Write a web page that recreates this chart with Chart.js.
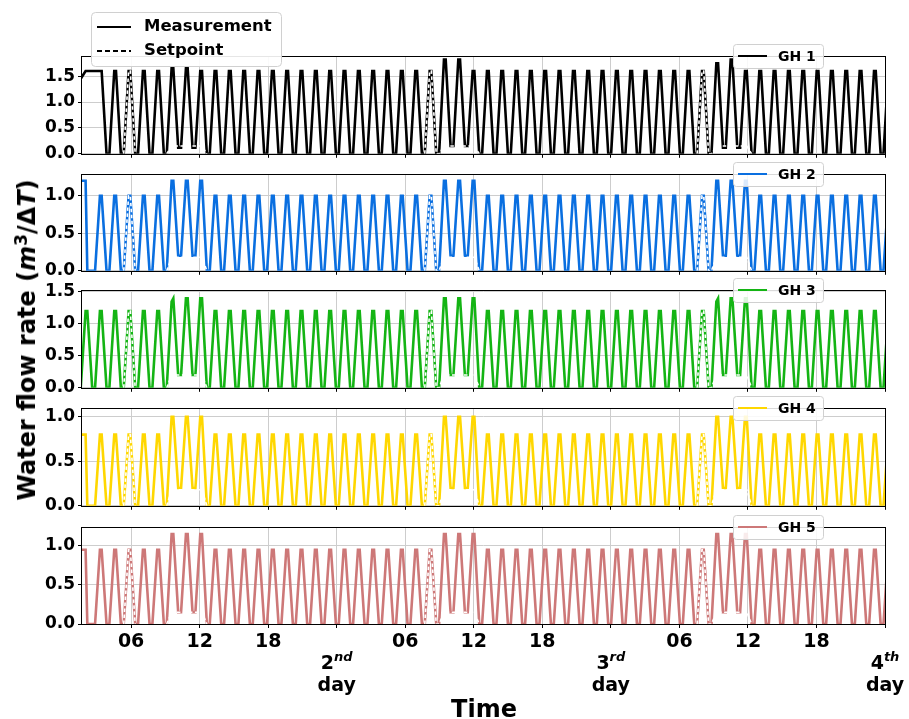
<!DOCTYPE html>
<html>
<head>
<meta charset="utf-8">
<title>Water flow rate per greenhouse</title>
<script src="https://cdn.jsdelivr.net/npm/chart.js@4.4.1/dist/chart.umd.min.js"></script>
<style>
  body { margin: 0; background: #fff; }
  #wrap { position: relative; width: 909px; height: 719px; overflow: hidden; font-family: "DejaVu Sans", sans-serif; }
  #wrap canvas { position: absolute; left: 0; }
  #ylabel { position: absolute; left: 28px; top: 340px; transform: translate(-50%, -50%) rotate(-90deg);
            white-space: nowrap; font-weight: bold; font-size: 24px; line-height: 28px; }
  #ylabel sup { font-size: 17px; vertical-align: 0; position: relative; top: -0.5em; }
  #xlabel { position: absolute; left: 484px; top: 697px; transform: translateX(-50%);
            font-weight: bold; font-size: 24px; line-height: 24px; }
</style>
</head>
<body>
<div id="wrap">
  <canvas id="gh1" width="909" height="167" style="top:0px"></canvas>
  <canvas id="gh2" width="909" height="126" style="top:158px"></canvas>
  <canvas id="gh3" width="909" height="127" style="top:274px"></canvas>
  <canvas id="gh4" width="909" height="127" style="top:392px"></canvas>
  <canvas id="gh5" width="909" height="208" style="top:511px"></canvas>
  <div id="ylabel">Water flow rate (<i>m</i><sup>3</sup>/Δ<i>T</i>)</div>
  <div id="xlabel">Time</div>
</div>
<script>
// pump cycles: first cycle centred at firstCycle (hours after 00:00 of day 1)
const firstCycle = 0.835
const cycleHours = 1.255
// sample times inside a cycle, as a fraction of the cycle, around its centre:
// start of rise, start of top, end of top, end of fall
const cycleShape = [-0.4, -0.06, 0.06, 0.4]
const hourTicks = [6, 12, 18, 24, 30, 36, 42, 48, 54, 60, 66, 72]
const _ = null

// one entry per pump cycle: a number is the peak of a [0, p, p, 0] cycle,
// an array gives the four samples of the cycle
const gh1Flow = [
  [1.6, 1.6, 1.4, 1.4], [1.45, 1.6, 1.6, 1.6], [1.6, 1.6, 1.6, 0],
  1.6, 1.6, 1.6, 1.6,
  [0, 1.65, 1.65, 0.12], [0.12, 1.65, 1.65, 0.12], [0.12, 1.6, 1.6, 0],
  1.6, 1.6, 1.6, 1.6, 1.6, 1.6, 1.6, 1.6, 1.6, 1.6, 1.6, 1.6, 1.6, 1.6, 1.6, 1.6,
  [0, 1.82, 1.82, 0.15], [0.15, 1.82, 1.82, 0.15], [0.15, 1.6, 1.6, 0],
  1.6, 1.6, 1.6, 1.6, 1.6, 1.6, 1.6, 1.6, 1.6, 1.6, 1.6, 1.6, 1.6, 1.6, 1.6, 1.6,
  [0, 1.75, 1.75, 0.12], [0.12, 1.82, 1.82, 0.12], [0.12, 1.6, 1.6, 0],
  1.6, 1.6, 1.6, 1.6, 1.6, 1.6, 1.6, 1.6, 1.6, 1.6
]
const gh1Setpoint = [
  _, _, _, _,
  1.6, _, _,
  [0, 0.15, 0.15, 0.15], [0.15, 0.15, 0.15, 0.15], [0.15, 0.15, 0.15, 0],
  _, _, _, _, _, _, _, _, _, _, _, _, _, _,
  _, 1.6,
  [0, 0.15, 0.15, 0.15], [0.15, 0.15, 0.15, 0.15], [0.15, 0.15, 0.15, 0],
  _, _, _, _, _, _, _, _, _, _, _, _, _, _,
  _, 1.6,
  [0, 0.15, 0.15, 0.15], [0.15, 0.15, 0.15, 0.15], [0.15, 0.15, 0.15, 0],
  _, _, _, _, _, _, _, _, _, _
]

const gh2Flow = [
  [1.2, 1.2, 1.2, 1.2], [1.2, 1.2, 0, 0], 1.0,
  1.0, 1.0, 1.0, 1.0,
  [0, 1.2, 1.2, 0.2], [0.2, 1.2, 1.2, 0.2], [0.2, 1.2, 1.2, 0],
  1.0, 1.0, 1.0, 1.0, 1.0, 1.0, 1.0, 1.0, 1.0, 1.0, 1.0, 1.0, 1.0, 1.0, 1.0, 1.0,
  [0, 1.2, 1.2, 0.2], [0.2, 1.2, 1.2, 0.2], [0.2, 1.2, 1.2, 0],
  1.0, 1.0, 1.0, 1.0, 1.0, 1.0, 1.0, 1.0, 1.0, 1.0, 1.0, 1.0, 1.0, 1.0, 1.0, 1.0,
  [0, 1.2, 1.2, 0.2], [0.2, 1.2, 1.2, 0.2], [0.2, 1.2, 1.2, 0],
  1.0, 1.0, 1.0, 1.0, 1.0, 1.0, 1.0, 1.0, 1.0, 1.0
]
const gh2Setpoint = [
  _, _, _, _,
  1.0, _, _,
  [0, 0.18, 0.18, 0.18], [0.18, 0.18, 0.18, 0.18], [0.18, 0.18, 0.18, 0],
  _, _, _, _, _, _, _, _, _, _, _, _, _, _,
  _, 1.0,
  [0, 0.18, 0.18, 0.18], [0.18, 0.18, 0.18, 0.18], [0.18, 0.18, 0.18, 0],
  _, _, _, _, _, _, _, _, _, _, _, _, _, _,
  _, 1.0,
  [0, 0.18, 0.18, 0.18], [0.18, 0.18, 0.18, 0.18], [0.18, 0.18, 0.18, 0],
  _, _, _, _, _, _, _, _, _, _
]

const gh3Flow = [
  [0, 0, 0, 0], 1.2, 1.2,
  1.2, 1.2, 1.2, 1.2,
  [0, 1.35, 1.4, 0.2], [0.2, 1.4, 1.4, 0.2], [0.2, 1.4, 1.4, 0],
  1.2, 1.2, 1.2, 1.2, 1.2, 1.2, 1.2, 1.2, 1.2, 1.2, 1.2, 1.2, 1.2, 1.2, 1.2, 1.2,
  [0, 1.4, 1.4, 0.2], [0.2, 1.4, 1.4, 0.2], [0.2, 1.4, 1.4, 0],
  1.2, 1.2, 1.2, 1.2, 1.2, 1.2, 1.2, 1.2, 1.2, 1.2, 1.2, 1.2, 1.2, 1.2, 1.2, 1.2,
  [0, 1.35, 1.4, 0.2], [0.2, 1.4, 1.4, 0.2], [0.2, 1.4, 1.4, 0],
  1.2, 1.2, 1.2, 1.2, 1.2, 1.2, 1.2, 1.2, 1.2, 1.2
]
const gh3Setpoint = [
  _, _, _, _,
  1.2, _, _,
  [0, 0.2, 0.2, 0.2], [0.2, 0.2, 0.2, 0.2], [0.2, 0.2, 0.2, 0],
  _, _, _, _, _, _, _, _, _, _, _, _, _, _,
  _, 1.2,
  [0, 0.2, 0.2, 0.2], [0.2, 0.2, 0.2, 0.2], [0.2, 0.2, 0.2, 0],
  _, _, _, _, _, _, _, _, _, _, _, _, _, _,
  _, 1.2,
  [0, 0.2, 0.2, 0.2], [0.2, 0.2, 0.2, 0.2], [0.2, 0.2, 0.2, 0],
  _, _, _, _, _, _, _, _, _, _
]

const gh4Flow = [
  [0.8, 0.8, 0.8, 0.8], [0.8, 0.8, 0, 0], 0.8,
  0.8, 0.8, 0.8, 0.8,
  [0, 1.0, 1.0, 0.2], [0.2, 1.0, 1.0, 0.2], [0.2, 1.0, 1.0, 0],
  0.8, 0.8, 0.8, 0.8, 0.8, 0.8, 0.8, 0.8, 0.8, 0.8, 0.8, 0.8, 0.8, 0.8, 0.8, 0.8,
  [0, 1.0, 1.0, 0.2], [0.2, 1.0, 1.0, 0.2], [0.2, 1.0, 1.0, 0],
  0.8, 0.8, 0.8, 0.8, 0.8, 0.8, 0.8, 0.8, 0.8, 0.8, 0.8, 0.8, 0.8, 0.8, 0.8, 0.8,
  [0, 1.0, 1.0, 0.2], [0.2, 1.0, 1.0, 0.2], [0.2, 1.0, 1.0, 0],
  0.8, 0.8, 0.8, 0.8, 0.8, 0.8, 0.8, 0.8, 0.8, 0.8
]
const gh4Setpoint = [
  _, _, _, _,
  0.8, _, _,
  [0, 0.18, 0.18, 0.18], [0.18, 0.18, 0.18, 0.18], [0.18, 0.18, 0.18, 0],
  _, _, _, _, _, _, _, _, _, _, _, _, _, _,
  _, 0.8,
  [0, 0.18, 0.18, 0.18], [0.18, 0.18, 0.18, 0.18], [0.18, 0.18, 0.18, 0],
  _, _, _, _, _, _, _, _, _, _, _, _, _, _,
  _, 0.8,
  [0, 0.18, 0.18, 0.18], [0.18, 0.18, 0.18, 0.18], [0.18, 0.18, 0.18, 0],
  _, _, _, _, _, _, _, _, _, _
]

const gh5Flow = [
  [0.95, 0.95, 0.95, 0.95], [0.95, 0.95, 0, 0], 0.95,
  0.95, 0.95, 0.95, 0.95,
  [0, 1.15, 1.15, 0.15], [0.15, 1.15, 1.15, 0.15], [0.15, 1.15, 1.15, 0],
  0.95, 0.95, 0.95, 0.95, 0.95, 0.95, 0.95, 0.95, 0.95, 0.95, 0.95, 0.95, 0.95, 0.95, 0.95, 0.95,
  [0, 1.15, 1.15, 0.15], [0.15, 1.15, 1.15, 0.15], [0.15, 1.15, 1.15, 0],
  0.95, 0.95, 0.95, 0.95, 0.95, 0.95, 0.95, 0.95, 0.95, 0.95, 0.95, 0.95, 0.95, 0.95, 0.95, 0.95,
  [0, 1.15, 1.15, 0.15], [0.15, 1.15, 1.15, 0.15], [0.15, 1.15, 1.15, 0],
  0.95, 0.95, 0.95, 0.95, 0.95, 0.95, 0.95, 0.95, 0.95, 0.95
]
const gh5Setpoint = [
  _, _, _, _,
  0.95, _, _,
  [0, 0.15, 0.15, 0.15], [0.15, 0.15, 0.15, 0.15], [0.15, 0.15, 0.15, 0],
  _, _, _, _, _, _, _, _, _, _, _, _, _, _,
  _, 0.95,
  [0, 0.15, 0.15, 0.15], [0.15, 0.15, 0.15, 0.15], [0.15, 0.15, 0.15, 0],
  _, _, _, _, _, _, _, _, _, _, _, _, _, _,
  _, 0.95,
  [0, 0.15, 0.15, 0.15], [0.15, 0.15, 0.15, 0.15], [0.15, 0.15, 0.15, 0],
  _, _, _, _, _, _, _, _, _, _
]

const yMaxes = [1.89, 1.29, 1.53, 1.10, 1.24]
const yTicks = [[0, 0.5, 1.0, 1.5], [0, 0.5, 1.0], [0, 0.5, 1.0, 1.5], [0, 0.5, 1.0], [0, 0.5, 1.0]]

const BOLD = '"DejaVu Sans", sans-serif'

function toPoints(cycles) { //turn the cycle list into {x, y} samples
  const pts = []
  cycles.forEach((c, k) => {
    const vals = c === null ? [null, null, null, null] : (Array.isArray(c) ? c : [0, c, c, 0])
    const centre = firstCycle + k * cycleHours
    vals.forEach((v, j) => pts.push({ x: centre + cycleShape[j] * cycleHours, y: v }))
  })
  return pts
}

const gridStyle = { color: '#cdcdcd', lineWidth: 1, tickColor: '#000', tickLength: 4, drawTicks: true }

// frame, small per-panel key, top key and the bottom time labels
const decor = {
  id: 'decor',
  afterDatasetsDraw(chart, args, opts) {
    const ctx = chart.ctx
    const a = chart.chartArea
    ctx.save()
    ctx.strokeStyle = '#000'
    ctx.lineWidth = 1
    ctx.strokeRect(Math.round(a.left) - 0.5, Math.round(a.top) + 0.5, Math.round(a.right - a.left) + 1, Math.round(a.bottom - a.top))

    // panel key box
    const bx = 733, bw = 90, bh = 24, by = a.top - bh / 2
    ctx.fillStyle = 'rgba(255,255,255,0.85)'
    ctx.strokeStyle = '#d0d0d0'
    ctx.beginPath()
    ctx.roundRect(bx + 0.5, Math.round(by) + 0.5, bw, bh, 3)
    ctx.fill()
    ctx.stroke()
    ctx.strokeStyle = opts.color
    ctx.lineWidth = 2
    ctx.beginPath()
    ctx.moveTo(bx + 5, by + bh / 2)
    ctx.lineTo(bx + 34, by + bh / 2)
    ctx.stroke()
    ctx.fillStyle = '#000'
    ctx.font = 'bold 14px ' + BOLD
    ctx.textBaseline = 'middle'
    ctx.textAlign = 'left'
    ctx.fillText(opts.label, bx + 45, by + bh / 2 + 1)

    if (opts.topKey) {
      ctx.fillStyle = 'rgba(255,255,255,0.9)'
      ctx.strokeStyle = '#d0d0d0'
      ctx.lineWidth = 1
      ctx.beginPath()
      ctx.roundRect(91.5, 12.5, 190, 54, 4)
      ctx.fill()
      ctx.stroke()
      ctx.strokeStyle = '#000'
      ctx.lineWidth = 2
      ctx.beginPath()
      ctx.moveTo(97, 27); ctx.lineTo(131, 27)
      ctx.stroke()
      ctx.setLineDash([5, 3])
      ctx.beginPath()
      ctx.moveTo(97, 51); ctx.lineTo(131, 51)
      ctx.stroke()
      ctx.setLineDash([])
      ctx.fillStyle = '#000'
      ctx.font = 'bold 16.5px ' + BOLD
      ctx.fillText('Measurement', 144, 27)
      ctx.fillText('Setpoint', 144, 51)
    }

    if (opts.timeLabels) {
      const xs = chart.scales.x
      ctx.fillStyle = '#000'
      ctx.textBaseline = 'alphabetic'
      const days = { 24: ['2', 'nd'], 48: ['3', 'rd'], 72: ['4', 'th'] }
      hourTicks.forEach(v => {
        const x = xs.getPixelForValue(v)
        if (days[v]) {
          const [n, sfx] = days[v]
          ctx.font = 'bold 19px ' + BOLD
          const wn = ctx.measureText(n).width
          ctx.font = 'italic bold 13px ' + BOLD
          const ws = ctx.measureText(sfx).width
          const x0 = x - (wn + ws) / 2
          ctx.textAlign = 'left'
          ctx.font = 'bold 19px ' + BOLD
          ctx.fillText(n, x0, a.bottom + 45)
          ctx.font = 'italic bold 13px ' + BOLD
          ctx.fillText(sfx, x0 + wn, a.bottom + 37)
          ctx.textAlign = 'center'
          ctx.font = 'bold 19px ' + BOLD
          ctx.fillText('day', x, a.bottom + 67)
        } else {
          ctx.textAlign = 'center'
          ctx.font = 'bold 19px ' + BOLD
          ctx.fillText(String(v % 24).padStart(2, '0'), x, a.bottom + 23)
        }
      })
    }
    ctx.restore()
  }
}

function makePanel(id, flow, setpoint, color, label, idx, padTop, xHeight, extra) {
  new Chart(document.getElementById(id), {
    type: 'line',
    data: {
      datasets: [
        { data: toPoints(setpoint), borderColor: '#fff', borderWidth: 1.6, borderDash: [3.5, 2.5],
          pointRadius: 0, spanGaps: false, order: 0 },
        { data: toPoints(flow), borderColor: color, borderWidth: 2.6,
          pointRadius: 0, order: 1 }
      ]
    },
    options: {
      responsive: false,
      animation: false,
      events: [],
      layout: { padding: { top: padTop, right: 24, bottom: 0, left: 0 } },
      scales: {
        x: {
          type: 'linear', min: 1.7, max: 72,
          afterBuildTicks: s => { s.ticks = hourTicks.map(v => ({ value: v })) },
          afterFit: s => { s.height = xHeight },
          ticks: { display: false },
          grid: gridStyle,
          border: { display: false }
        },
        y: {
          min: 0, max: yMaxes[idx],
          afterBuildTicks: s => { s.ticks = yTicks[idx].map(v => ({ value: v })) },
          afterFit: s => { s.width = 82 },
          ticks: { color: '#000', padding: 3, font: { family: BOLD, weight: 'bold', size: 17 },
                   callback: v => Number(v).toFixed(1) },
          grid: gridStyle,
          border: { display: false }
        }
      },
      plugins: {
        legend: { display: false },
        tooltip: { enabled: false },
        decor: Object.assign({ color, label }, extra)
      }
    },
    plugins: [decor]
  })
}

makePanel('gh1', gh1Flow, gh1Setpoint, '#000000', 'GH 1', 0, 56, 13, { topKey: true })
makePanel('gh2', gh2Flow, gh2Setpoint, '#0a6fe0', 'GH 2', 1, 16, 13, {})
makePanel('gh3', gh3Flow, gh3Setpoint, '#14b414', 'GH 3', 2, 16, 13, {})
makePanel('gh4', gh4Flow, gh4Setpoint, '#ffd700', 'GH 4', 3, 16, 13, {})
makePanel('gh5', gh5Flow, gh5Setpoint, '#cd7878', 'GH 5', 4, 16, 95, { timeLabels: true })
</script>
</body>
</html>
